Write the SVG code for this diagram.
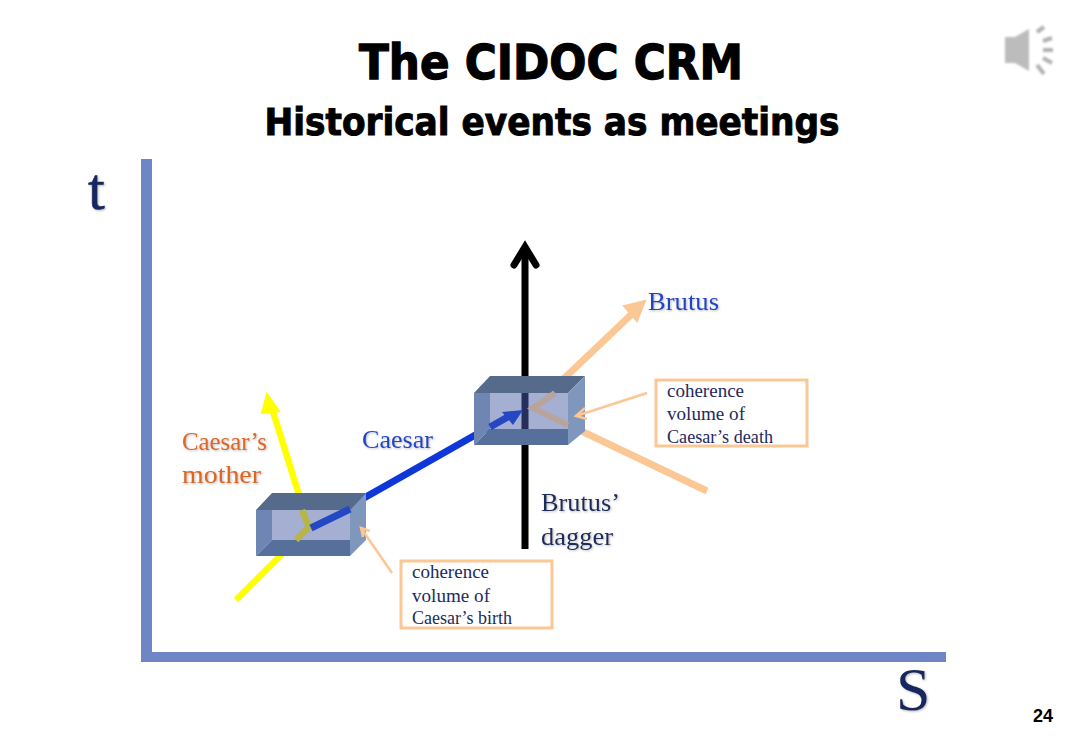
<svg xmlns="http://www.w3.org/2000/svg" width="1083" height="750" viewBox="0 0 1083 750">
<defs>
<filter id="sh" x="-20%" y="-20%" width="140%" height="140%"><feDropShadow dx="1" dy="1" stdDeviation="0.8" flood-color="#888" flood-opacity="0.6"/></filter>
<filter id="soft" x="-20%" y="-20%" width="140%" height="140%"><feGaussianBlur stdDeviation="0.8"/></filter>
</defs>
<style>
.title{font-family:"DejaVu Sans","Liberation Sans",sans-serif;font-weight:700;fill:#000;stroke:#000;text-anchor:middle}
.serif{font-family:"Liberation Serif",serif}
.lbl{font-size:26px;filter:url(#sh)}
.note{font-size:18.5px;fill:#1c2a5c}
.box{fill:#fff;stroke:#fbc795;stroke-width:3}
.wall{fill:#6f86b4}
.side{fill:#7f96bd}
.dark{fill:#566a8c}
.bot{fill:#566f9b}
.inner{fill:#a4afd2}
.thin{fill:none;stroke:#fbc795;stroke-width:2.5}
</style>
<rect width="1083" height="750" fill="#fff"/>
<text class="title" x="551" y="79" font-size="48" stroke-width="1.3" textLength="384" lengthAdjust="spacingAndGlyphs">The CIDOC CRM</text>
<text class="title" x="552" y="135" font-size="37" stroke-width="1" textLength="575" lengthAdjust="spacingAndGlyphs">Historical events as meetings</text>
<g id="speaker" filter="url(#soft)">
<path d="M1005 37H1015L1029 29V71L1015 63H1005Z" fill="#bcbcbc"/>
<path d="M1037 32l7-5M1043 41l9-3M1043 50h10M1043 58l9 5M1037 65l7 9" stroke="#b0b0b0" stroke-width="4" fill="none"/>
</g>
<g id="axes" fill="#6f86c6">
<rect x="141" y="159" width="11" height="503"/>
<rect x="141" y="652" width="805" height="10"/>
</g>
<text class="serif" x="88" y="209" font-size="60" fill="#14265f" stroke="#14265f" stroke-width=".7" filter="url(#sh)">t</text>
<text class="serif" x="896" y="710" font-size="62" fill="#14265f" filter="url(#sh)">S</text>
<g id="connectors" fill="none">
<path d="M236 600L309 527L271 405" stroke="#ffff00" stroke-width="6.5"/>
<path d="M267 394L279 411L262 413Z" fill="#ffff00" stroke="#ffff00" stroke-width="2"/>
<path d="M525 549V247" stroke="#000" stroke-width="7"/>
<path d="M514 265L525 247L536 265" stroke="#000" stroke-width="7" stroke-linecap="round"/>
<path d="M707 491L533 408L635 311" stroke="#fbc795" stroke-width="7"/>
<path d="M645 301L637 321L624 306Z" fill="#fbc795" stroke="#fbc795" stroke-width="2"/>
<path d="M311 528L500 421" stroke="#0d37d8" stroke-width="7"/>
</g>
<g id="coherence-birth">
<path class="dark" d="M256 510L272 493H366L350 510Z"/>
<path class="wall" d="M256 510H272V540L256 556Z"/>
<path class="bot" d="M256 556L272 540H350V556Z"/>
<path class="side" d="M350 510L366 493V540L350 556Z"/>
<rect class="inner" x="272" y="510" width="78" height="30"/>
</g>
<g id="coherence-death">
<path class="dark" d="M474 393L490 376H585L568 393Z"/>
<path class="wall" d="M474 393H490V429L474 445Z"/>
<path class="bot" d="M474 445L490 429H568V445Z"/>
<path class="side" d="M568 393L585 376V431L568 445Z"/>
<rect class="inner" x="490" y="393" width="78" height="36"/>
</g>
<g id="connectors-front" fill="none">
<path d="M296 540L309 527L302 510" stroke="#b8b544" stroke-width="6.5"/>
<path d="M525 393V429" stroke="#262f5c" stroke-width="7"/>
<path d="M555 393L533 408L568 425" stroke="#b8a49c" stroke-width="6"/>
<path d="M311 528L350 509" stroke="#2447c4" stroke-width="7"/>
<path d="M490 427L513 414" stroke="#2447c4" stroke-width="7"/>
<path d="M523 410L502 412L513 425Z" fill="#2447c4"/>
<path class="thin" d="M392 573L361 528M370 531L361 528L363 537"/>
<path class="thin" d="M647 393L576 416M585 408L576 416L587 419"/>
</g>
<g class="serif">
<text class="lbl" x="182" y="450" fill="#e0661f" textLength="85" lengthAdjust="spacingAndGlyphs">Caesar’s</text>
<text class="lbl" x="182" y="483" fill="#e0661f" textLength="79" lengthAdjust="spacingAndGlyphs">mother</text>
<text class="lbl" x="362" y="448" fill="#1f45c8" textLength="71" lengthAdjust="spacingAndGlyphs">Caesar</text>
<text class="lbl" x="648" y="310" fill="#1f45c8" textLength="71" lengthAdjust="spacingAndGlyphs">Brutus</text>
<text class="lbl" x="541" y="511" fill="#1c2a5c" textLength="79" lengthAdjust="spacingAndGlyphs">Brutus’</text>
<text class="lbl" x="541" y="545" fill="#1c2a5c" textLength="72" lengthAdjust="spacingAndGlyphs">dagger</text>
</g>
<g id="note-death">
<rect class="box" x="656" y="380" width="151" height="66"/>
<g class="serif note"><text x="667" y="397" textLength="77" lengthAdjust="spacingAndGlyphs">coherence</text><text x="667" y="420" textLength="78" lengthAdjust="spacingAndGlyphs">volume of</text><text x="667" y="443" textLength="106" lengthAdjust="spacingAndGlyphs">Caesar’s death</text></g>
</g>
<g id="note-birth">
<rect class="box" x="401" y="561" width="151" height="67"/>
<g class="serif note"><text x="412" y="578" textLength="77" lengthAdjust="spacingAndGlyphs">coherence</text><text x="412" y="602" textLength="78" lengthAdjust="spacingAndGlyphs">volume of</text><text x="412" y="624" textLength="100" lengthAdjust="spacingAndGlyphs">Caesar’s birth</text></g>
</g>
<text x="1033" y="722" font-family="Liberation Sans, sans-serif" font-weight="700" font-size="18" fill="#000">24</text>
</svg>
